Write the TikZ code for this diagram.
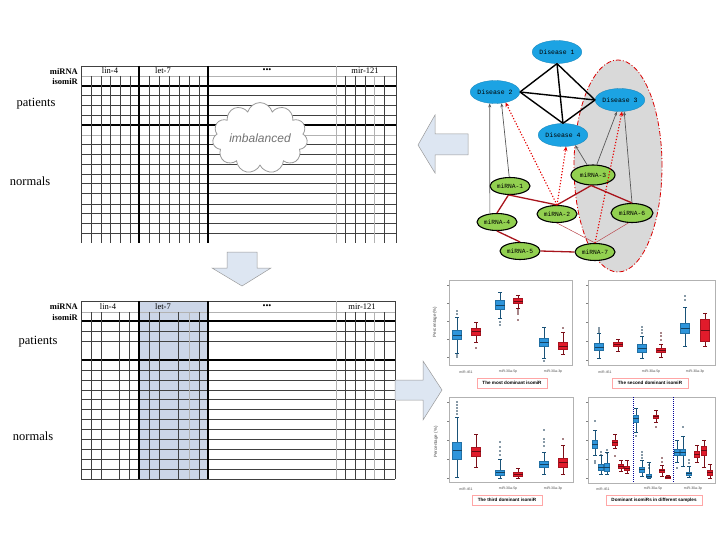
\documentclass[tikz,border=0pt]{standalone}
\usepackage{fontspec}
\setmainfont{Liberation Serif}
\setsansfont{Liberation Sans}
\setmonofont{Liberation Mono}
\usepackage{xcolor}
\usepackage{tikz}
\usetikzlibrary{arrows.meta, positioning, shapes}

\definecolor{diseaseblue}{HTML}{1CA3E3}
\definecolor{mirgreen}{HTML}{92D050}
\definecolor{groupgray}{HTML}{D9D9D9}
\definecolor{linkred}{HTML}{A8141C}
\definecolor{arrowfill}{HTML}{DDE6F2}
\definecolor{colshade}{HTML}{CCD6E8}
\definecolor{boxblue}{HTML}{2E95DB}
\definecolor{boxred}{HTML}{E11B2B}

\newcommand{\boxhalf}{4.5}
\newcommand{\bplot}[8]{%
  \draw[#7!55!black, line width=0.4pt] (#1,#2) -- (#1,#6) (#1-1.8,#2) -- (#1+1.8,#2) (#1-1.8,#6) -- (#1+1.8,#6);
  \filldraw[fill=#7, draw=#7!75!black, line width=0.3pt] (#1-\boxhalf,#3) rectangle (#1+\boxhalf,#5);
  \draw[#7!45!black, line width=0.4pt] (#1-\boxhalf,#4) -- (#1+\boxhalf,#4);
  \foreach \o in {#8} {\fill[#7!35!black] (#1,\o) circle (0.8pt);}
}

\begin{document}
\begin{tikzpicture}[
    x=1pt, y=-1pt,
    grid/.style={draw=black!75, line width=0.4pt},
    faint/.style={draw=black!30, line width=0.6pt},
    bold/.style={draw=black, line width=1.2pt},
    rowlabel/.style={font=\fontsize{12.5}{14}\selectfont, inner sep=0pt},
    keylabel/.style={font=\bfseries\fontsize{8.5}{10}\selectfont, anchor=east, inner sep=0pt},
    collabel/.style={font=\fontsize{8.5}{10}\selectfont, inner sep=0pt},
    flow/.style={fill=arrowfill, draw=black!40, line width=0.5pt},
    disease/.style={
        ellipse,
        fill=diseaseblue,
        draw=diseaseblue!80!black,
        line width=0.3pt,
        minimum width=48pt,
        minimum height=23pt,
        inner sep=0pt,
        font=\ttfamily\fontsize{6.5}{7}\selectfont
    },
    mirna/.style={
        ellipse,
        fill=mirgreen,
        draw=black,
        line width=1.1pt,
        minimum width=40pt,
        minimum height=17pt,
        inner sep=0pt,
        font=\ttfamily\fontsize{6.3}{7}\selectfont
    },
    cluster/.style={
        ellipse,
        fill=groupgray,
        draw=red!85!black,
        dash pattern=on 5pt off 2pt on 1pt off 2pt,
        line width=0.8pt,
        minimum width=88pt,
        minimum height=212pt
    },
    hub/.style={draw=black, line width=1.4pt},
    link/.style={draw=linkred, line width=1.3pt},
    weak/.style={draw=linkred!80, line width=0.5pt},
    assoc/.style={-{Stealth[length=4pt, width=3pt]}, draw=black!65, line width=0.7pt},
    predicted/.style={-{Stealth[length=4.5pt, width=4pt]}, draw=red!90!black, line width=1.1pt, dash pattern=on 1.2pt off 1.8pt},
    panel/.style={draw=black!30, fill=white, line width=0.5pt},
    caption/.style={draw=red!35, fill=white, line width=0.5pt, font=\sffamily\bfseries\fontsize{4.6}{5}\selectfont, minimum height=10pt, inner sep=1pt},
    ticklabel/.style={font=\sffamily\fontsize{3.5}{4}\selectfont, text=black!70, inner sep=0pt},
    axislabel/.style={font=\sffamily\fontsize{4.5}{5}\selectfont, text=black!70, inner sep=0pt, rotate=90}
]

\useasboundingbox (0,0) rectangle (720,540);

\foreach \y in {95,105,115,144,154,164,174,183,193,204,213,223,233}
  \draw[grid] (81,\y) -- (396,\y);
\foreach \y in {76,135}
  \draw[faint] (81,\y) -- (396,\y);
\draw[grid] (81,66) -- (396,66);
\foreach \y in {86,125}
  \draw[bold] (81,\y) -- (396,\y);
\foreach \x in {91,101,110,120,130,149,159,169,179,189,199,345,355,365,384}
  \draw[grid] (\x,76) -- (\x,243);
\draw[faint] (374,76) -- (374,243);
\draw[faint] (336,66) -- (336,243);
\foreach \x in {81,396}
  \draw[grid] (\x,66) -- (\x,243);
\foreach \x in {139,208}
  \draw[bold] (\x,66) -- (\x,243);

\node[keylabel] (mirnatop) at (78,72) {miRNA};
\node[keylabel] (isomirtop) at (78,82) {isomiR};
\node[rowlabel] (patientstop) at (36,104) {patients};
\node[rowlabel] (normalstop) at (30,181) {normals};
\node[collabel] (lin4top) at (110,71) {lin-4};
\node[collabel] (let7top) at (163,71) {let-7};
\node[collabel] (dotstop) at (267,71) {\textbullet\textbullet\textbullet};
\node[collabel] (mir121top) at (365,71) {mir-121};

\node[cloud, cloud puffs=11, aspect=1.6, draw=black!40, line width=0.8pt, fill=white,
      minimum width=95pt, minimum height=60pt, inner sep=0pt,
      font=\sffamily\itshape\fontsize{12}{14}\selectfont, text=black!55] (imbalance) at (260,138) {imbalanced};

\fill[colshade] (139,301) rectangle (208,479);
\foreach \y in {331,341,370,380,390,399,409,419,429,439,449,459,469}
  \draw[grid] (81,\y) -- (395,\y);
\draw[faint] (81,312) -- (395,312);
\foreach \y in {301,479}
  \draw[grid] (81,\y) -- (395,\y);
\foreach \y in {321,360}
  \draw[bold] (81,\y) -- (395,\y);
\foreach \x in {91,101,119,129,149,159,178,199,345,355,365,384}
  \draw[grid] (\x,312) -- (\x,479);
\foreach \x in {189,374}
  \draw[faint] (\x,312) -- (\x,479);
\draw[faint] (336,301) -- (336,479);
\foreach \x in {81,395}
  \draw[grid] (\x,301) -- (\x,479);
\foreach \x in {139,208}
  \draw[bold] (\x,301) -- (\x,479);

\node[keylabel] (mirnabot) at (78,307) {miRNA};
\node[keylabel] (isomirbot) at (78,318) {isomiR};
\node[rowlabel] (patientsbot) at (38,342) {patients};
\node[rowlabel] (normalsbot) at (33,436) {normals};
\node[collabel] (lin4bot) at (108,307) {lin-4};
\node[collabel] (let7bot) at (163,307) {let-7};
\node[collabel] (dotsbot) at (267,307) {\textbullet\textbullet\textbullet};
\node[collabel] (mir121bot) at (362,307) {mir-121};

\draw[flow] (227,252) -- (257,252) -- (257,268) -- (271,268) -- (242,286) -- (212,268) -- (227,268) -- cycle;
\draw[flow] (468,134) -- (435,134) -- (435,115) -- (418,145) -- (435,173) -- (435,155) -- (468,155) -- cycle;
\draw[flow] (395,380) -- (423,380) -- (423,361) -- (442,390) -- (423,420) -- (423,400) -- (395,400) -- cycle;

\node[cluster] (group) at (618,166) {};

\node[disease] (d1) at (557,52) {Disease 1};
\node[disease] (d2) at (495,92) {Disease 2};
\node[disease] (d3) at (620,100) {Disease 3};
\node[disease] (d4) at (563,135) {Disease 4};

\node[mirna] (m1) at (510,186) {miRNA-1};
\node[mirna] (m2) at (557,214) {miRNA-2};
\node[mirna, minimum width=44pt, minimum height=20pt] (m3) at (593,175) {miRNA-3};
\node[mirna] (m4) at (497,222) {miRNA-4};
\node[mirna] (m5) at (520,251) {miRNA-5};
\node[mirna, minimum width=42pt, minimum height=19pt] (m6) at (632,213) {miRNA-6};
\node[mirna] (m7) at (595,252) {miRNA-7};

\draw[hub] (d1.south) -- (d2.east);
\draw[hub] (d1.south) -- (d3.west);
\draw[hub] (d1.south) -- (d4.north);
\draw[hub] (d2.east) -- (d3.west);
\draw[hub] (d2.east) -- (d4.north);
\draw[hub] (d3.west) -- (d4.north);

\draw[link] (m1.-95) -- (m2.north);
\draw[link] (m2.north) -- (m3.-100);
\draw[link] (m3.-100) -- (m6.north);
\draw[link] (m1.-100) -- (m4.north);
\draw[link] (m4.south) -- (m5.north);
\draw[link] (m5.east) -- (m7.west);
\draw[weak] (m2.south) -- (m7.north);
\draw[weak] (m6.-110) -- (m7.north);

\draw[assoc] (m1.95) -- (d2.-60);
\draw[assoc] (m4.130) -- (d2.-115);
\draw[assoc] (m3.120) -- (d4.-40);
\draw[assoc] (m3.70) -- (d3.-105);
\draw[assoc] (m6.north) -- (d3.-70);

\draw[predicted] (m2.north) -- (d2.-45);
\draw[predicted] (m2.north) -- (d4.-75);
\draw[predicted] (m7.north) -- (d3.-80);

\draw[panel] (449,280) rectangle (572,365);
\draw[panel] (588,280) rectangle (715,365);
\draw[panel] (449,397) rectangle (573,482);
\draw[panel] (588,397) rectangle (715,483);
\foreach \t in {285,303,321,339,357}
  \draw[black!50, line width=0.3pt] (447,\t) -- (449,\t);
\foreach \t in {285,303,322,341,360}
  \draw[black!50, line width=0.3pt] (586,\t) -- (588,\t);
\foreach \t in {402,421,440,459,478}
  \draw[black!50, line width=0.3pt] (447,\t) -- (449,\t) (586,\t) -- (588,\t);
\draw[blue!60!black, line width=0.4pt, dash pattern=on 1pt off 1pt] (633,397) -- (633,483);
\draw[blue!60!black, line width=0.4pt, dash pattern=on 1pt off 1pt] (673,397) -- (673,483);

\bplot{457}{317}{330}{335}{339}{353}{boxblue}{311,314,355,357}
\bplot{476}{322}{328}{331}{335}{342}{boxred}{348}
\bplot{500}{292}{300}{305}{309}{318}{boxblue}{322,325}
\bplot{518}{295}{298}{301}{303}{308}{boxred}{310,312,314,320}
\bplot{544}{327}{338}{342}{346}{358}{boxblue}{361}
\bplot{563}{332}{342}{346}{349}{354}{boxred}{328}

\bplot{599}{333}{343}{347}{350}{358}{boxblue}{328,330,332}
\bplot{618}{339}{342}{344}{346}{351}{boxred}{}
\bplot{642}{336}{344}{348}{352}{358}{boxblue}{327,330,333}
\bplot{661}{344}{348}{350}{352}{357}{boxred}{333,336,340}
\bplot{685}{307}{323}{328}{333}{346}{boxblue}{296,300}
\bplot{705}{313}{319}{330}{341}{346}{boxred}{}

\bplot{457}{417}{442}{450}{459}{477}{boxblue}{402,405,408,411,414}
\bplot{476}{434}{447}{451}{456}{467}{boxred}{}
\bplot{500}{459}{470}{472}{475}{478}{boxblue}{442,447,451,455}
\bplot{518}{468}{472}{474}{476}{478}{boxred}{}
\bplot{544}{452}{461}{464}{467}{474}{boxblue}{430,439,442,446}
\bplot{563}{445}{458}{462}{467}{474}{boxred}{439}

\renewcommand{\boxhalf}{2.6}
\bplot{595}{430}{440}{444}{448}{455}{boxblue}{421,461,463}
\bplot{601}{455}{464}{467}{470}{474}{boxblue}{452,455}
\bplot{607}{452}{463}{467}{471}{474}{boxblue}{450,453}
\bplot{615}{434}{440}{442}{445}{448}{boxred}{456}
\bplot{621}{460}{464}{466}{468}{471}{boxred}{}
\bplot{627}{460}{466}{468}{470}{473}{boxred}{}
\bplot{636}{408}{415}{418}{422}{432}{boxblue}{436}
\bplot{642}{460}{467}{469}{472}{476}{boxblue}{452,455,458}
\bplot{649}{462}{474}{476}{477}{478}{boxblue}{465,468}
\bplot{656}{410}{415}{416}{418}{422}{boxred}{427}
\bplot{662}{465}{469}{470}{472}{476}{boxred}{458,462}
\bplot{668}{475}{476}{477}{478}{478}{boxred}{}
\bplot{677}{440}{449}{452}{455}{462}{boxblue}{468}
\bplot{683}{436}{449}{452}{455}{466}{boxblue}{427}
\bplot{689}{466}{472}{473}{475}{477}{boxblue}{460,463}
\bplot{697}{445}{451}{454}{457}{462}{boxred}{}
\bplot{704}{440}{446}{450}{455}{467}{boxred}{}
\bplot{710}{464}{470}{472}{475}{478}{boxred}{}

\node[axislabel] (ylabelmost) at (435,322) {Percentage(\%)};
\node[axislabel] (ylabelthird) at (436,442) {Percentage (\%)};

\node[ticklabel] (mostx1) at (466,372) {miR-451};
\node[ticklabel] (mostx2) at (508,372) {miR-30a-5p};
\node[ticklabel] (mostx3) at (553,372) {miR-30a-3p};
\node[ticklabel] (secondx1) at (605,372) {miR-451};
\node[ticklabel] (secondx2) at (651,372) {miR-30a-5p};
\node[ticklabel] (secondx3) at (695,372) {miR-30a-3p};
\node[ticklabel] (thirdx1) at (466,489) {miR-451};
\node[ticklabel] (thirdx2) at (508,489) {miR-30a-5p};
\node[ticklabel] (thirdx3) at (553,489) {miR-30a-3p};
\node[ticklabel] (samplex1) at (603,489) {miR-451};
\node[ticklabel] (samplex2) at (653,489) {miR-30a-5p};
\node[ticklabel] (samplex3) at (693,489) {miR-30a-3p};

\node[caption, minimum width=70pt] (mostcap) at (512,383) {The most dominant isomiR};
\node[caption, minimum width=76pt] (secondcap) at (650,383) {The second dominant isomiR};
\node[caption, minimum width=70pt] (thirdcap) at (507,500) {The third dominant isomiR};
\node[caption, minimum width=96pt] (samplecap) at (654,500) {Dominant isomiRs in different samples};

\end{tikzpicture}
\end{document}
